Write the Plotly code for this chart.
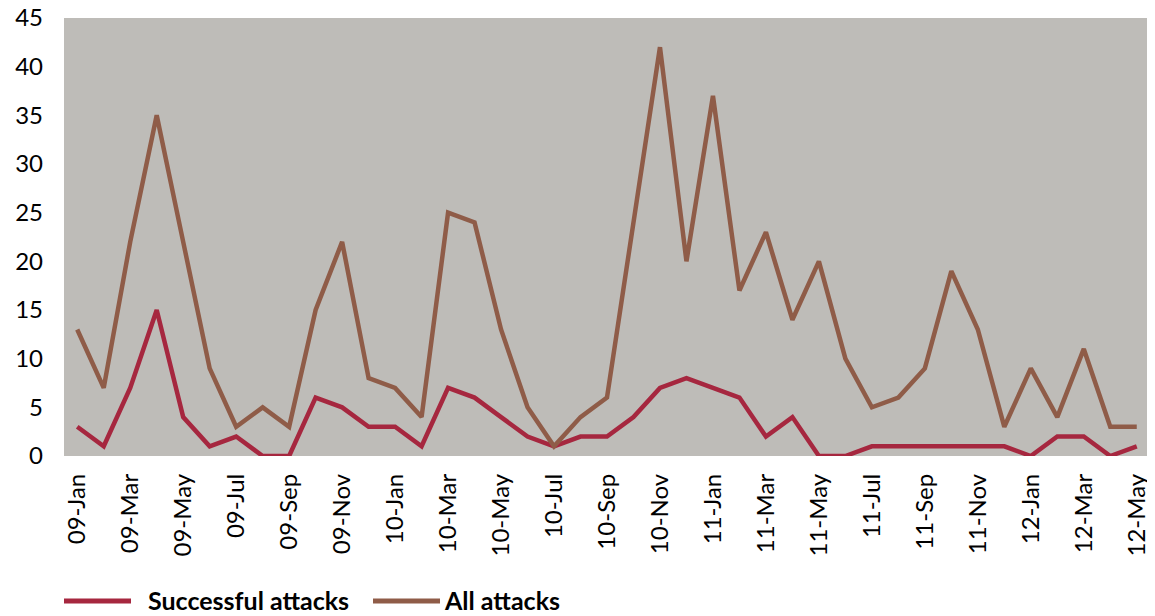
import plotly.graph_objects as go

months = ["Jan", "Feb", "Mar", "Apr", "May", "Jun", "Jul", "Aug", "Sep", "Oct", "Nov", "Dec"]
categories = [f"{y}-{m}" for y in ["09", "10", "11", "12"] for m in months][:41]

successful = [3, 1, 7, 15, 4, 1, 2, 0, 0, 6, 5, 3,
              3, 1, 7, 6, 4, 2, 1, 2, 2, 4, 7, 8,
              7, 6, 2, 4, 0, 0, 1, 1, 1, 1, 1, 1,
              0, 2, 2, 0, 1]
all_attacks = [13, 7, 22, 35, 22, 9, 3, 5, 3, 15, 22, 8,
               7, 4, 25, 24, 13, 5, 1, 4, 6, 24, 42, 20,
               37, 17, 23, 14, 20, 10, 5, 6, 9, 19, 13, 3,
               9, 4, 11, 3, 3]
tick_labels = categories[::2]
series_names = ["Successful attacks", "All attacks"]

RED = "#A6273F"
BROWN = "#8F5C48"
FONT = "Lato"

OFF = 8  # default page body margin
W, H = 1155 - OFF, 616 - OFF
L, R, T, B = 64 - OFF, 5, 18 - OFF, 160
PW, PH = W - L - R, H - T - B


def px_x(p):
    return (p - OFF - L) / PW


def px_y(p):
    return (H - B - (p - OFF)) / PH


fig = go.Figure()
fig.add_trace(go.Scatter(x=categories, y=successful, mode="lines", name=series_names[0],
                         line=dict(color=RED, width=4.5)))
fig.add_trace(go.Scatter(x=categories, y=all_attacks, mode="lines", name=series_names[1],
                         line=dict(color=BROWN, width=4.5)))

# manual legend (layout decoration)
legend_items = [(64, 131, 146, RED, series_names[0]), (373, 440, 442, BROWN, series_names[1])]
for x0, x1, xt, col, name in legend_items:
    fig.add_shape(type="line", xref="paper", yref="paper", x0=px_x(x0), x1=px_x(x1),
                  y0=px_y(601), y1=px_y(601), line=dict(color=col, width=5))
    fig.add_annotation(xref="paper", yref="paper", x=px_x(xt), y=px_y(600), text=f"<b>{name}</b>",
                       showarrow=False, xanchor="left", yanchor="middle",
                       font=dict(family=FONT, size=25, color="black"))

fig.update_layout(
    width=W, height=H,
    margin=dict(l=L, r=R, t=T, b=B),
    paper_bgcolor="white",
    plot_bgcolor="#BEBCB8",
    font=dict(family=FONT, size=24, color="black"),
    showlegend=False,
    xaxis=dict(type="category", range=[-0.5, 40.5], tickmode="array", tickvals=tick_labels,
               ticktext=tick_labels, tickangle=-90, showgrid=False, zeroline=False,
               showline=False, ticks="", ticklabelstandoff=12, automargin=False,
               tickfont=dict(size=24), ticklabeloverflow="allow"),
    yaxis=dict(range=[0, 45], dtick=5, showgrid=False, zeroline=False, showline=False, ticks="",
               tickfont=dict(size=24), ticklabelstandoff=20, automargin=False,
               ticklabeloverflow="allow"),
)

fig.write_html("out.html")
